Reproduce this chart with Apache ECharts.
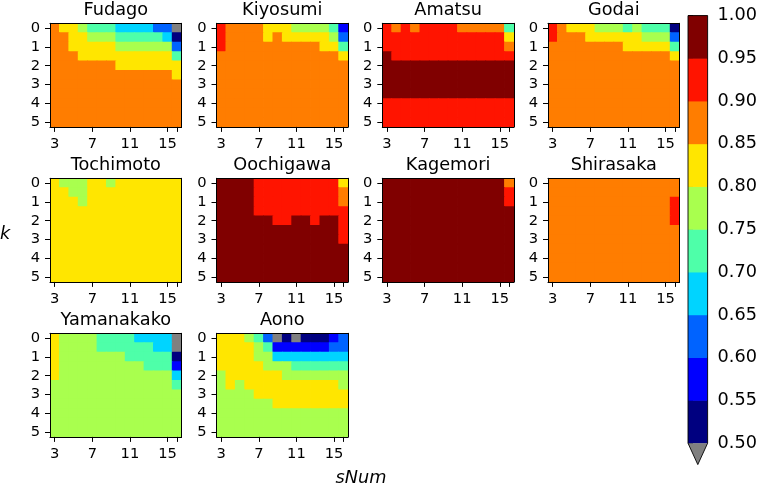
<!DOCTYPE html>
<html><head><meta charset="utf-8">
<script src="https://cdn.jsdelivr.net/npm/echarts@6/dist/echarts.min.js"></script>
<style>html,body{margin:0;padding:0;background:#fff}#c{width:760px;height:488px}</style>
</head><body><div id="c"></div>
<script>
// ---- data ----
const sNum = [3,4,5,6,7,8,9,10,11,12,13,14,15,16];
const kVals = [0,0.5,1,1.5,2,2.5,3,3.5,4,4.5,5];
const xTickLabels = [3,7,11,15];
const xTickMarks = [3,7,11,15,16];
const yTickLabels = [0,1,2,3,4,5];
const cbTicks = [0.5,0.55,0.6,0.65,0.7,0.75,0.8,0.85,0.9,0.95,1.0];
const stations = ['Fudago','Kiyosumi','Amatsu','Godai','Tochimoto','Oochigawa','Kagemori','Shirasaka','Yamanakako','Aono'];

const fudago = [
 [0.87,0.82,0.82,0.77,0.72,0.72,0.72,0.67,0.67,0.67,0.67,0.62,0.62,0.45],
 [0.87,0.87,0.82,0.82,0.77,0.77,0.77,0.72,0.72,0.72,0.72,0.72,0.67,0.52],
 [0.87,0.87,0.82,0.82,0.82,0.82,0.82,0.77,0.77,0.77,0.77,0.77,0.77,0.62],
 [0.87,0.87,0.87,0.82,0.82,0.82,0.82,0.82,0.82,0.82,0.82,0.82,0.82,0.72],
 [0.87,0.87,0.87,0.87,0.87,0.87,0.87,0.82,0.82,0.82,0.82,0.82,0.82,0.82],
 [0.87,0.87,0.87,0.87,0.87,0.87,0.87,0.87,0.87,0.87,0.87,0.87,0.87,0.82],
 [0.87,0.87,0.87,0.87,0.87,0.87,0.87,0.87,0.87,0.87,0.87,0.87,0.87,0.87],
 [0.87,0.87,0.87,0.87,0.87,0.87,0.87,0.87,0.87,0.87,0.87,0.87,0.87,0.87],
 [0.87,0.87,0.87,0.87,0.87,0.87,0.87,0.87,0.87,0.87,0.87,0.87,0.87,0.87],
 [0.87,0.87,0.87,0.87,0.87,0.87,0.87,0.87,0.87,0.87,0.87,0.87,0.87,0.87],
 [0.87,0.87,0.87,0.87,0.87,0.87,0.87,0.87,0.87,0.87,0.87,0.87,0.87,0.87]
];
const kiyosumi = [
 [0.92,0.87,0.87,0.87,0.87,0.82,0.82,0.82,0.77,0.77,0.77,0.77,0.72,0.57],
 [0.92,0.87,0.87,0.87,0.87,0.82,0.87,0.82,0.82,0.82,0.82,0.82,0.77,0.62],
 [0.92,0.87,0.87,0.87,0.87,0.87,0.87,0.87,0.87,0.87,0.87,0.82,0.82,0.72],
 [0.87,0.87,0.87,0.87,0.87,0.87,0.87,0.87,0.87,0.87,0.87,0.87,0.87,0.82],
 [0.87,0.87,0.87,0.87,0.87,0.87,0.87,0.87,0.87,0.87,0.87,0.87,0.87,0.87],
 [0.87,0.87,0.87,0.87,0.87,0.87,0.87,0.87,0.87,0.87,0.87,0.87,0.87,0.87],
 [0.87,0.87,0.87,0.87,0.87,0.87,0.87,0.87,0.87,0.87,0.87,0.87,0.87,0.87],
 [0.87,0.87,0.87,0.87,0.87,0.87,0.87,0.87,0.87,0.87,0.87,0.87,0.87,0.87],
 [0.87,0.87,0.87,0.87,0.87,0.87,0.87,0.87,0.87,0.87,0.87,0.87,0.87,0.87],
 [0.87,0.87,0.87,0.87,0.87,0.87,0.87,0.87,0.87,0.87,0.87,0.87,0.87,0.87],
 [0.87,0.87,0.87,0.87,0.87,0.87,0.87,0.87,0.87,0.87,0.87,0.87,0.87,0.87]
];
const amatsu = [
 [0.92,0.87,0.92,0.87,0.92,0.92,0.92,0.92,0.87,0.87,0.87,0.87,0.87,0.72],
 [0.92,0.92,0.92,0.92,0.92,0.92,0.92,0.92,0.92,0.92,0.92,0.92,0.92,0.82],
 [0.92,0.92,0.92,0.92,0.92,0.92,0.92,0.92,0.92,0.92,0.92,0.92,0.92,0.87],
 [0.97,0.92,0.92,0.92,0.92,0.92,0.92,0.92,0.92,0.92,0.92,0.92,0.92,0.92],
 [0.97,0.97,0.97,0.97,0.97,0.97,0.97,0.97,0.97,0.97,0.97,0.97,0.97,0.97],
 [0.97,0.97,0.97,0.97,0.97,0.97,0.97,0.97,0.97,0.97,0.97,0.97,0.97,0.97],
 [0.97,0.97,0.97,0.97,0.97,0.97,0.97,0.97,0.97,0.97,0.97,0.97,0.97,0.97],
 [0.97,0.97,0.97,0.97,0.97,0.97,0.97,0.97,0.97,0.97,0.97,0.97,0.97,0.97],
 [0.92,0.92,0.92,0.92,0.92,0.92,0.92,0.92,0.92,0.92,0.92,0.92,0.92,0.92],
 [0.92,0.92,0.92,0.92,0.92,0.92,0.92,0.92,0.92,0.92,0.92,0.92,0.92,0.92],
 [0.92,0.92,0.92,0.92,0.92,0.92,0.92,0.92,0.92,0.92,0.92,0.92,0.92,0.92]
];
const godai = [
 [0.92,0.87,0.82,0.82,0.82,0.77,0.77,0.77,0.72,0.77,0.72,0.72,0.72,0.52],
 [0.92,0.87,0.87,0.87,0.82,0.82,0.82,0.82,0.82,0.82,0.77,0.77,0.77,0.62],
 [0.87,0.87,0.87,0.87,0.87,0.87,0.87,0.87,0.82,0.82,0.82,0.82,0.82,0.72],
 [0.87,0.87,0.87,0.87,0.87,0.87,0.87,0.87,0.87,0.87,0.87,0.87,0.87,0.82],
 [0.87,0.87,0.87,0.87,0.87,0.87,0.87,0.87,0.87,0.87,0.87,0.87,0.87,0.87],
 [0.87,0.87,0.87,0.87,0.87,0.87,0.87,0.87,0.87,0.87,0.87,0.87,0.87,0.87],
 [0.87,0.87,0.87,0.87,0.87,0.87,0.87,0.87,0.87,0.87,0.87,0.87,0.87,0.87],
 [0.87,0.87,0.87,0.87,0.87,0.87,0.87,0.87,0.87,0.87,0.87,0.87,0.87,0.87],
 [0.87,0.87,0.87,0.87,0.87,0.87,0.87,0.87,0.87,0.87,0.87,0.87,0.87,0.87],
 [0.87,0.87,0.87,0.87,0.87,0.87,0.87,0.87,0.87,0.87,0.87,0.87,0.87,0.87],
 [0.87,0.87,0.87,0.87,0.87,0.87,0.87,0.87,0.87,0.87,0.87,0.87,0.87,0.87]
];
const tochimoto = [
 [0.82,0.77,0.77,0.77,0.82,0.82,0.77,0.82,0.82,0.82,0.82,0.82,0.82,0.82],
 [0.82,0.82,0.77,0.77,0.82,0.82,0.82,0.82,0.82,0.82,0.82,0.82,0.82,0.82],
 [0.82,0.82,0.82,0.77,0.82,0.82,0.82,0.82,0.82,0.82,0.82,0.82,0.82,0.82],
 [0.82,0.82,0.82,0.82,0.82,0.82,0.82,0.82,0.82,0.82,0.82,0.82,0.82,0.82],
 [0.82,0.82,0.82,0.82,0.82,0.82,0.82,0.82,0.82,0.82,0.82,0.82,0.82,0.82],
 [0.82,0.82,0.82,0.82,0.82,0.82,0.82,0.82,0.82,0.82,0.82,0.82,0.82,0.82],
 [0.82,0.82,0.82,0.82,0.82,0.82,0.82,0.82,0.82,0.82,0.82,0.82,0.82,0.82],
 [0.82,0.82,0.82,0.82,0.82,0.82,0.82,0.82,0.82,0.82,0.82,0.82,0.82,0.82],
 [0.82,0.82,0.82,0.82,0.82,0.82,0.82,0.82,0.82,0.82,0.82,0.82,0.82,0.82],
 [0.82,0.82,0.82,0.82,0.82,0.82,0.82,0.82,0.82,0.82,0.82,0.82,0.82,0.82],
 [0.82,0.82,0.82,0.82,0.82,0.82,0.82,0.82,0.82,0.82,0.82,0.82,0.82,0.82]
];
const oochigawa = [
 [0.97,0.97,0.97,0.97,0.92,0.92,0.92,0.92,0.92,0.92,0.92,0.92,0.92,0.82],
 [0.97,0.97,0.97,0.97,0.92,0.92,0.92,0.92,0.92,0.92,0.92,0.92,0.92,0.87],
 [0.97,0.97,0.97,0.97,0.92,0.92,0.92,0.92,0.92,0.92,0.92,0.92,0.92,0.87],
 [0.97,0.97,0.97,0.97,0.92,0.92,0.92,0.92,0.92,0.92,0.92,0.92,0.92,0.92],
 [0.97,0.97,0.97,0.97,0.97,0.97,0.92,0.92,0.97,0.97,0.92,0.97,0.97,0.92],
 [0.97,0.97,0.97,0.97,0.97,0.97,0.97,0.97,0.97,0.97,0.97,0.97,0.97,0.92],
 [0.97,0.97,0.97,0.97,0.97,0.97,0.97,0.97,0.97,0.97,0.97,0.97,0.97,0.92],
 [0.97,0.97,0.97,0.97,0.97,0.97,0.97,0.97,0.97,0.97,0.97,0.97,0.97,0.97],
 [0.97,0.97,0.97,0.97,0.97,0.97,0.97,0.97,0.97,0.97,0.97,0.97,0.97,0.97],
 [0.97,0.97,0.97,0.97,0.97,0.97,0.97,0.97,0.97,0.97,0.97,0.97,0.97,0.97],
 [0.97,0.97,0.97,0.97,0.97,0.97,0.97,0.97,0.97,0.97,0.97,0.97,0.97,0.97]
];
const kagemori = [
 [0.97,0.97,0.97,0.97,0.97,0.97,0.97,0.97,0.97,0.97,0.97,0.97,0.97,0.87],
 [0.97,0.97,0.97,0.97,0.97,0.97,0.97,0.97,0.97,0.97,0.97,0.97,0.97,0.92],
 [0.97,0.97,0.97,0.97,0.97,0.97,0.97,0.97,0.97,0.97,0.97,0.97,0.97,0.92],
 [0.97,0.97,0.97,0.97,0.97,0.97,0.97,0.97,0.97,0.97,0.97,0.97,0.97,0.97],
 [0.97,0.97,0.97,0.97,0.97,0.97,0.97,0.97,0.97,0.97,0.97,0.97,0.97,0.97],
 [0.97,0.97,0.97,0.97,0.97,0.97,0.97,0.97,0.97,0.97,0.97,0.97,0.97,0.97],
 [0.97,0.97,0.97,0.97,0.97,0.97,0.97,0.97,0.97,0.97,0.97,0.97,0.97,0.97],
 [0.97,0.97,0.97,0.97,0.97,0.97,0.97,0.97,0.97,0.97,0.97,0.97,0.97,0.97],
 [0.97,0.97,0.97,0.97,0.97,0.97,0.97,0.97,0.97,0.97,0.97,0.97,0.97,0.97],
 [0.97,0.97,0.97,0.97,0.97,0.97,0.97,0.97,0.97,0.97,0.97,0.97,0.97,0.97],
 [0.97,0.97,0.97,0.97,0.97,0.97,0.97,0.97,0.97,0.97,0.97,0.97,0.97,0.97]
];
const shirasaka = [
 [0.87,0.87,0.87,0.87,0.87,0.87,0.87,0.87,0.87,0.87,0.87,0.87,0.87,0.87],
 [0.87,0.87,0.87,0.87,0.87,0.87,0.87,0.87,0.87,0.87,0.87,0.87,0.87,0.87],
 [0.87,0.87,0.87,0.87,0.87,0.87,0.87,0.87,0.87,0.87,0.87,0.87,0.87,0.92],
 [0.87,0.87,0.87,0.87,0.87,0.87,0.87,0.87,0.87,0.87,0.87,0.87,0.87,0.92],
 [0.87,0.87,0.87,0.87,0.87,0.87,0.87,0.87,0.87,0.87,0.87,0.87,0.87,0.92],
 [0.87,0.87,0.87,0.87,0.87,0.87,0.87,0.87,0.87,0.87,0.87,0.87,0.87,0.87],
 [0.87,0.87,0.87,0.87,0.87,0.87,0.87,0.87,0.87,0.87,0.87,0.87,0.87,0.87],
 [0.87,0.87,0.87,0.87,0.87,0.87,0.87,0.87,0.87,0.87,0.87,0.87,0.87,0.87],
 [0.87,0.87,0.87,0.87,0.87,0.87,0.87,0.87,0.87,0.87,0.87,0.87,0.87,0.87],
 [0.87,0.87,0.87,0.87,0.87,0.87,0.87,0.87,0.87,0.87,0.87,0.87,0.87,0.87],
 [0.87,0.87,0.87,0.87,0.87,0.87,0.87,0.87,0.87,0.87,0.87,0.87,0.87,0.87]
];
const yamanakako = [
 [0.82,0.77,0.77,0.77,0.77,0.72,0.72,0.72,0.72,0.67,0.67,0.67,0.67,0.45],
 [0.82,0.77,0.77,0.77,0.77,0.72,0.72,0.72,0.72,0.72,0.72,0.67,0.67,0.45],
 [0.82,0.77,0.77,0.77,0.77,0.77,0.77,0.77,0.72,0.72,0.72,0.72,0.72,0.52],
 [0.82,0.77,0.77,0.77,0.77,0.77,0.77,0.77,0.77,0.77,0.72,0.72,0.72,0.57],
 [0.82,0.77,0.77,0.77,0.77,0.77,0.77,0.77,0.77,0.77,0.77,0.77,0.77,0.67],
 [0.77,0.77,0.77,0.77,0.77,0.77,0.77,0.77,0.77,0.77,0.77,0.77,0.77,0.72],
 [0.77,0.77,0.77,0.77,0.77,0.77,0.77,0.77,0.77,0.77,0.77,0.77,0.77,0.77],
 [0.77,0.77,0.77,0.77,0.77,0.77,0.77,0.77,0.77,0.77,0.77,0.77,0.77,0.77],
 [0.77,0.77,0.77,0.77,0.77,0.77,0.77,0.77,0.77,0.77,0.77,0.77,0.77,0.77],
 [0.77,0.77,0.77,0.77,0.77,0.77,0.77,0.77,0.77,0.77,0.77,0.77,0.77,0.77],
 [0.77,0.77,0.77,0.77,0.77,0.77,0.77,0.77,0.77,0.77,0.77,0.77,0.77,0.77]
];
const aono = [
 [0.82,0.82,0.82,0.77,0.72,0.62,0.45,0.52,0.45,0.52,0.52,0.52,0.57,0.62],
 [0.82,0.82,0.82,0.82,0.77,0.72,0.57,0.57,0.57,0.57,0.57,0.57,0.62,0.62],
 [0.82,0.82,0.82,0.82,0.77,0.77,0.67,0.67,0.67,0.67,0.67,0.67,0.67,0.67],
 [0.82,0.82,0.82,0.82,0.82,0.77,0.77,0.77,0.72,0.72,0.72,0.72,0.72,0.72],
 [0.77,0.82,0.82,0.82,0.82,0.82,0.82,0.77,0.77,0.77,0.77,0.77,0.77,0.77],
 [0.77,0.82,0.77,0.82,0.82,0.82,0.82,0.82,0.82,0.82,0.82,0.82,0.82,0.77],
 [0.77,0.77,0.77,0.77,0.82,0.82,0.82,0.82,0.82,0.82,0.82,0.82,0.82,0.82],
 [0.77,0.77,0.77,0.77,0.77,0.77,0.82,0.82,0.82,0.82,0.82,0.82,0.82,0.82],
 [0.77,0.77,0.77,0.77,0.77,0.77,0.77,0.77,0.77,0.77,0.77,0.77,0.77,0.77],
 [0.77,0.77,0.77,0.77,0.77,0.77,0.77,0.77,0.77,0.77,0.77,0.77,0.77,0.77],
 [0.77,0.77,0.77,0.77,0.77,0.77,0.77,0.77,0.77,0.77,0.77,0.77,0.77,0.77]
];
const panels = [fudago,kiyosumi,amatsu,godai,tochimoto,oochigawa,kagemori,shirasaka,yamanakako,aono];

// ---- style ----
const binColors = ['#000080','#0000ff','#0063ff','#00d4ff','#4effa9','#a9ff4e','#ffe600','#ff7d00','#ff1400','#800000'];
const underColor = '#808080';
const FONT = 'DejaVu Sans';
const colLeft = [50, 216.5, 382.3, 548];
const rowTop = [23.3, 178.3, 333.3];
const PW = 131.6, PH = 103.6;
const TICK_FS = 14.7, TITLE_FS = 17.7, CB_FS = 17.7, LAB_FS = 17.7;
const TICK_LEN = 5, LABEL_MARGIN = 10;

const grids = [], xAxes = [], yAxes = [], series = [], graphics = [];
const lineStyle = {color:'#000', width:1};

function cellItem(params, api) {
  const c = api.coord([api.value(0), api.value(1)]);
  const s = api.size([1, 1]);
  return {type:'rect',
    shape:{x:c[0] - s[0] / 2 - 0.4, y:c[1] - s[1] / 2 - 0.4, width:s[0] + 0.8, height:s[1] + 0.8},
    style:{fill:api.visual('color')}};
}

panels.forEach((p, i) => {
  const r = Math.floor(i / 4), c = i % 4;
  const left = colLeft[c], top = rowTop[r];
  const gi = grids.length;
  grids.push({left: left, top: top, width: PW, height: PH});
  xAxes.push({type:'category', gridIndex:gi, data:sNum.map(String), position:'bottom', z:10,
    axisLine:{show:true, lineStyle},
    axisTick:{show:true, alignWithLabel:true, length:TICK_LEN, lineStyle,
      interval:(idx, v) => xTickMarks.includes(Number(v))},
    axisLabel:{show:true, color:'#000', fontFamily:FONT, fontSize:TICK_FS, margin:LABEL_MARGIN,
      interval:(idx, v) => xTickLabels.includes(Number(v))},
    splitLine:{show:false}, splitArea:{show:false}});
  xAxes.push({type:'category', gridIndex:gi, data:sNum.map(String), position:'top', z:10,
    axisLine:{show:true, lineStyle}, axisTick:{show:false}, axisLabel:{show:false},
    splitLine:{show:false}, splitArea:{show:false}});
  yAxes.push({type:'category', gridIndex:gi, data:kVals.map(String), inverse:true, position:'left', z:10,
    axisLine:{show:true, lineStyle},
    axisTick:{show:true, alignWithLabel:true, length:TICK_LEN, lineStyle,
      interval:(idx, v) => yTickLabels.includes(Number(v))},
    axisLabel:{show:true, color:'#000', fontFamily:FONT, fontSize:TICK_FS, margin:LABEL_MARGIN,
      interval:(idx, v) => yTickLabels.includes(Number(v))},
    splitLine:{show:false}, splitArea:{show:false}});
  yAxes.push({type:'category', gridIndex:gi, data:kVals.map(String), inverse:true, position:'right', z:10,
    axisLine:{show:true, lineStyle}, axisTick:{show:false}, axisLabel:{show:false},
    splitLine:{show:false}, splitArea:{show:false}});
  const data = [];
  p.forEach((row, yi) => row.forEach((v, xi) => data.push([xi, yi, v])));
  series.push({type:'custom', name:stations[i], xAxisIndex:2*gi, yAxisIndex:2*gi, data,
    dimensions:['x','y','value'], encode:{x:0, y:1, tooltip:2},
    renderItem:cellItem, clip:true, silent:true, z:1});
  graphics.push({type:'text', x:left + PW/2, y:top - 4, silent:true,
    style:{text:stations[i], fill:'#000', fontFamily:FONT, fontSize:TITLE_FS,
      align:'center', verticalAlign:'bottom', textAlign:'center', textVerticalAlign:'bottom'}});
});

// colorbar
const cbGi = grids.length;
grids.push({left:688, top:15.6, width:22, height:427.6});
xAxes.push({type:'value', gridIndex:cbGi, min:0, max:1, show:false});
yAxes.push({type:'value', gridIndex:cbGi, min:0.5, max:1.0, interval:0.05, position:'right',
  axisLine:{show:false}, splitLine:{show:false},
  axisTick:{show:true, length:TICK_LEN, lineStyle},
  axisLabel:{show:true, color:'#000', fontFamily:FONT, fontSize:CB_FS, margin:LABEL_MARGIN,
    formatter:(v) => v.toFixed(2)}});
const cbX = xAxes.length - 1, cbY = yAxes.length - 1;
const bands = cbTicks.slice(0, -1).map((lo, i) => [lo, cbTicks[i+1]]);
series.push({type:'custom', xAxisIndex:cbX, yAxisIndex:cbY, clip:false, silent:true,
  data:bands,
  renderItem:(params, api) => {
    const lo = api.value(0), hi = api.value(1);
    const a = api.coord([0, hi]), b = api.coord([1, lo]);
    return {type:'rect', shape:{x:a[0], y:a[1]-0.3, width:b[0]-a[0], height:b[1]-a[1]+0.6},
      style:{fill:binColors[params.dataIndex]}};
  }});
series.push({type:'custom', xAxisIndex:cbX, yAxisIndex:cbY, clip:false, silent:true, z:5,
  data:[[0.5, 1.0]],
  renderItem:(params, api) => {
    const lo = api.value(0), hi = api.value(1);
    const tl = api.coord([0, hi]), tr = api.coord([1, hi]);
    const bl = api.coord([0, lo]), br = api.coord([1, lo]);
    const ext = 0.05 * (bl[1] - tl[1]);
    const tip = [(bl[0] + br[0]) / 2, bl[1] + ext];
    return {type:'group', children:[
      {type:'polygon', shape:{points:[bl, br, tip]}, style:{fill:underColor}},
      {type:'polygon', shape:{points:[tl, tr, br, tip, bl]}, style:{fill:'none', stroke:'#000', lineWidth:0.9}}
    ]};
  }});

graphics.push({type:'text', x:0, y:234, silent:true,
  style:{text:'k', fill:'#000', fontFamily:FONT, fontStyle:'italic', fontSize:LAB_FS,
    align:'left', verticalAlign:'middle', textAlign:'left', textVerticalAlign:'middle'}});
graphics.push({type:'text', x:361, y:478, silent:true,
  style:{text:'sNum', fill:'#000', fontFamily:FONT, fontStyle:'italic', fontSize:LAB_FS,
    align:'center', verticalAlign:'middle', textAlign:'center', textVerticalAlign:'middle'}});

const pieces = binColors.map((col, i) => i === binColors.length - 1
  ? {gte:cbTicks[i], lte:cbTicks[i+1], color:col}
  : {gte:cbTicks[i], lt:cbTicks[i+1], color:col});
pieces.push({lt:0.5, color:underColor});

const chart = echarts.init(document.getElementById('c'), null, {renderer:'canvas'});
chart.setOption({
  animation:false,
  backgroundColor:'#fff',
  grid:grids, xAxis:xAxes, yAxis:yAxes,
  visualMap:{type:'piecewise', show:false, dimension:2,
    seriesIndex:panels.map((_, i) => i), pieces},
  series,
  graphic:{elements:graphics}
});
</script></body></html>
